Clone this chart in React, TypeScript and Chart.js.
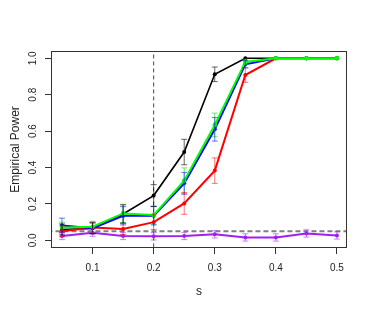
import React, { useEffect, useRef } from "react";
import { Chart, registerables } from "chart.js";

Chart.register(...registerables);

// ---- data ----
const sValues = [0.05, 0.1, 0.15, 0.2, 0.25, 0.3, 0.35, 0.4, 0.45, 0.5];
const xTickValues = [0.1, 0.2, 0.3, 0.4, 0.5];
const yTickValues = [0, 0.2, 0.4, 0.6, 0.8, 1.0];

const blackPower = [0.06, 0.066, 0.145, 0.246, 0.485, 0.912, 1, 1, 1, 1];
const blackErr = [0.03, 0.03, 0.05, 0.06, 0.07, 0.04, 0, 0, 0, 0];
const redPower = [0.05, 0.07, 0.062, 0.1, 0.203, 0.383, 0.908, 1, 1, 1];
const redErr = [0.03, 0.03, 0.03, 0.04, 0.06, 0.07, 0.04, 0, 0, 0];
const bluePower = [0.082, 0.066, 0.135, 0.135, 0.313, 0.61, 0.967, 1, 1, 1];
const blueErr = [0.04, 0.03, 0.05, 0.05, 0.06, 0.065, 0.02, 0, 0, 0];
const greenPower = [0.07, 0.075, 0.148, 0.139, 0.328, 0.634, 0.98, 1, 1, 1];
const greenErr = [0.03, 0.03, 0.05, 0.05, 0.07, 0.065, 0.015, 0, 0, 0];
const purplePower = [0.024, 0.042, 0.024, 0.022, 0.024, 0.033, 0.016, 0.016, 0.038, 0.027];
const purpleErr = [0.02, 0.02, 0.02, 0.02, 0.02, 0.02, 0.02, 0.02, 0.02, 0.02];

const nominalLevel = 0.05;
const thresholdS = 0.2;

const xLabel = "s";
const yLabel = "Empirical Power";

const FONT = "'Liberation Sans', Arial, Helvetica, sans-serif";

type Series = { name: string; values: number[]; err: number[]; color: string; errColor: string; width: number; radius: number };

const series: Series[] = [
  { name: "green", values: greenPower, err: greenErr, color: "#00ff00", errColor: "rgba(0,230,0,0.6)", width: 2, radius: 2.3 },
  { name: "blue", values: bluePower, err: blueErr, color: "#0000ff", errColor: "rgba(0,0,255,0.55)", width: 2, radius: 2 },
  { name: "red", values: redPower, err: redErr, color: "#ff0000", errColor: "rgba(255,0,0,0.55)", width: 2, radius: 2 },
  { name: "black", values: blackPower, err: blackErr, color: "#000000", errColor: "rgba(0,0,0,0.6)", width: 1.6, radius: 2 },
  { name: "purple", values: purplePower, err: purpleErr, color: "#a020f0", errColor: "rgba(160,32,240,0.55)", width: 2, radius: 2 },
];

const errorBarPlugin = {
  id: "errorBars",
  afterDatasetsDraw(chart: any) {
    const { ctx, scales } = chart;
    const xs = scales.x;
    const ys = scales.y;
    ctx.save();
    ctx.lineWidth = 1;
    series.forEach((s) => {
      ctx.strokeStyle = s.errColor;
      s.values.forEach((v, i) => {
        const e = s.err[i];
        if (!e) return;
        const px = xs.getPixelForValue(sValues[i]);
        const y1 = ys.getPixelForValue(v - e);
        const y2 = ys.getPixelForValue(v + e);
        ctx.beginPath();
        ctx.moveTo(px, y1);
        ctx.lineTo(px, y2);
        ctx.moveTo(px - 3, y1);
        ctx.lineTo(px + 3, y1);
        ctx.moveTo(px - 3, y2);
        ctx.lineTo(px + 3, y2);
        ctx.stroke();
      });
    });
    ctx.restore();
  },
};

const boxPlugin = {
  id: "boxFrame",
  afterDraw(chart: any) {
    const { ctx, chartArea } = chart;
    ctx.save();
    ctx.strokeStyle = "#333";
    ctx.lineWidth = 1;
    const l = Math.round(chartArea.left) + 0.5;
    const t = Math.round(chartArea.top) + 0.5;
    const r = Math.round(chartArea.right) - 0.5;
    const b = Math.round(chartArea.bottom) - 0.5;
    ctx.strokeRect(l, t, r - l, b - t);
    ctx.restore();
  },
};

export default function App() {
  const ref = useRef<HTMLCanvasElement | null>(null);

  useEffect(() => {
    if (!ref.current) return;
    const datasets: any[] = series.map((s) => ({
      label: s.name,
      data: sValues.map((x, i) => ({ x, y: s.values[i] })),
      borderColor: s.color,
      backgroundColor: s.color,
      borderWidth: s.width,
      pointRadius: s.radius,
      pointBorderWidth: 0,
      pointBackgroundColor: s.color,
      tension: 0,
    }));
    datasets.push({
      label: "nominal",
      data: [
        { x: 0, y: nominalLevel },
        { x: 1, y: nominalLevel },
      ],
      borderColor: "#7f7f7f",
      borderWidth: 2,
      borderDash: [5, 3],
      pointRadius: 0,
    });
    datasets.push({
      label: "threshold",
      data: [
        { x: thresholdS, y: -1 },
        { x: thresholdS, y: 2 },
      ],
      borderColor: "#444",
      borderWidth: 1,
      borderDash: [4, 3],
      pointRadius: 0,
    });

    const chart = new Chart(ref.current, {
      type: "line",
      data: { datasets },
      options: {
        responsive: false,
        animation: false,
        layout: { padding: { left: 0, top: 51, right: 27, bottom: 0 } },
        plugins: { legend: { display: false }, tooltip: { enabled: false } },
        scales: {
          x: {
            type: "linear",
            min: 0.032,
            max: 0.5164,
            afterBuildTicks: (s: any) => {
              s.ticks = xTickValues.map((v) => ({ value: v }));
            },
            afterFit: (s: any) => {
              s.height = 64;
            },
            grid: { drawOnChartArea: false, drawTicks: true, tickLength: 6, color: "#333" },
            border: { display: false },
            ticks: {
              font: { family: FONT, size: 10 },
              color: "#222",
              padding: 8,
              maxRotation: 0,
              minRotation: 0,
              callback: (v: any) => Number(v).toFixed(1),
            },
            title: {
              display: true,
              text: xLabel,
              font: { family: FONT, size: 12 },
              color: "#222",
              padding: { top: 0, bottom: 13 },
            },
          },
          y: {
            type: "linear",
            min: -0.042,
            max: 1.04,
            afterBuildTicks: (s: any) => {
              s.ticks = yTickValues.map((v) => ({ value: v }));
            },
            afterFit: (s: any) => {
              s.width = 51;
            },
            grid: { drawOnChartArea: false, drawTicks: true, tickLength: 6, color: "#333" },
            border: { display: false },
            ticks: {
              font: { family: FONT, size: 10 },
              color: "#222",
              padding: 5,
              minRotation: 90,
              maxRotation: 90,
              crossAlign: "center",
              callback: (v: any) => Number(v).toFixed(1),
            },
            title: {
              display: true,
              text: yLabel,
              font: { family: FONT, size: 12 },
              color: "#222",
              padding: { top: 8.5, bottom: 0 },
            },
          },
        },
      } as any,
      plugins: [errorBarPlugin, boxPlugin],
    });
    return () => chart.destroy();
  }, []);

  return (
    <div style={{ position: "fixed", left: 0, top: 0, width: 374, height: 312, background: "#fff" }}>
      <canvas ref={ref} width={374} height={312} />
    </div>
  );
}
